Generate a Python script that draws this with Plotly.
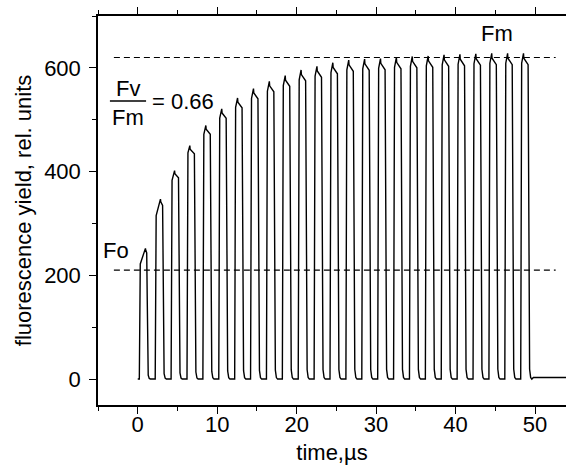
import plotly.graph_objects as go

# Flash train: one saturating flash every 2 us
flash_start_us = [0.2, 2.2, 4.2, 6.2, 8.2, 10.2, 12.2, 14.2, 16.2, 18.2,
                  20.2, 22.2, 24.2, 26.2, 28.2, 30.2, 32.2, 34.2, 36.2, 38.2,
                  40.2, 42.2, 44.2, 46.2, 48.2]
# fluorescence at the top of each flash (rel. units)
flash_peak = [252, 347, 402, 450, 489, 521, 542, 560, 574, 585,
              596, 603, 610, 615, 617, 618, 620, 622, 623, 625,
              626, 627, 628, 628, 628]
# level reached at the end of the fast rise of each flash
flash_shoulder = [222, 315, 383, 436, 472, 503, 524, 541, 555, 566,
                  577, 584, 591, 596, 598, 599, 601, 603, 604, 606,
                  607, 608, 609, 609, 609]
record_start_us = 0.0
record_end_us = 54.0
dark_level_after = 3

F0 = 210
FM = 620

# build the recorded trace from the flash list
t_trace = [record_start_us]
f_trace = [0]
for t0, a, s in zip(flash_start_us, flash_peak, flash_shoulder):
    rise = min(0.65, 0.08 + 5.0 * (a - s) / a)
    t_tip = 0.12 + rise
    pts = [(0.0, 0.0), (0.12, s), (t_tip, a), (t_tip + 0.04, 0.985 * a)]
    if t_tip + 0.04 < 0.93:
        pts.append((0.93, 0.965 * a))
    pts += [(1.0, 0.60 * a), (1.05, 0.12 * a), (1.12, 0.03 * a),
            (1.25, 0.005 * a), (1.4, 0.0)]
    for dt, v in pts:
        t_trace.append(t0 + dt)
        f_trace.append(v)
t_trace += [flash_start_us[-1] + 1.6, record_end_us]
f_trace += [dark_level_after, dark_level_after]

FONT = "Arial, Liberation Sans, sans-serif"

fig = go.Figure()
fig.add_trace(go.Scatter(x=t_trace, y=f_trace, mode="lines",
                         line=dict(color="black", width=1.4),
                         hoverinfo="skip", showlegend=False))
for level in (F0, FM):
    fig.add_trace(go.Scatter(x=[-3.0, 52.6], y=[level, level], mode="lines",
                             line=dict(color="black", width=1.2, dash="6px,4px"),
                             hoverinfo="skip", showlegend=False))

ann_font = dict(family=FONT, size=22, color="black")
fig.add_annotation(x=45.2, y=667, text="Fm", showarrow=False, font=ann_font)
fig.add_annotation(x=-2.75, y=247, text="Fo", showarrow=False, font=ann_font)
fig.add_annotation(x=-1.2, y=561, text="Fv", showarrow=False, font=ann_font)
fig.add_annotation(x=-1.2, y=505, text="Fm", showarrow=False, font=ann_font)
fig.add_annotation(x=1.6, y=535, text="= %.2f" % ((FM - F0) / FM),
                   showarrow=False, xanchor="left", font=ann_font)
fig.add_shape(type="line", x0=-3.5, x1=1.05, y0=536, y1=536,
              line=dict(color="black", width=1.5))

axis_common = dict(showgrid=False, zeroline=False, showline=True,
                   linecolor="black", linewidth=1.5, ticks="outside",
                   tickcolor="black", tickwidth=1.3, ticklen=7,
                   mirror="ticks", automargin=False,
                   tickfont=dict(family=FONT, size=22, color="black"))

fig.update_xaxes(range=[-5, 53.9], dtick=10, tick0=0, ticklabelstandoff=-8,
                 minor=dict(dtick=5, ticklen=4, tickcolor="black",
                            tickwidth=1.3, ticks="outside"),
                 title=dict(text="time,\u00b5s", standoff=8,
                            font=dict(family=FONT, size=22, color="black")),
                 **axis_common)
fig.update_yaxes(range=[-50, 700], dtick=200, tick0=0, ticklabelstandoff=4,
                 minor=dict(dtick=100, ticklen=4, tickcolor="black",
                            tickwidth=1.3, ticks="outside"),
                 title=dict(text="fluorescence yield, rel. units", standoff=6,
                            font=dict(family=FONT, size=22, color="black")),
                 **axis_common)

fig.update_layout(width=566, height=471,
                  margin=dict(l=98, r=0, t=16, b=66),
                  paper_bgcolor="white", plot_bgcolor="white")

fig.write_html("out.html")
